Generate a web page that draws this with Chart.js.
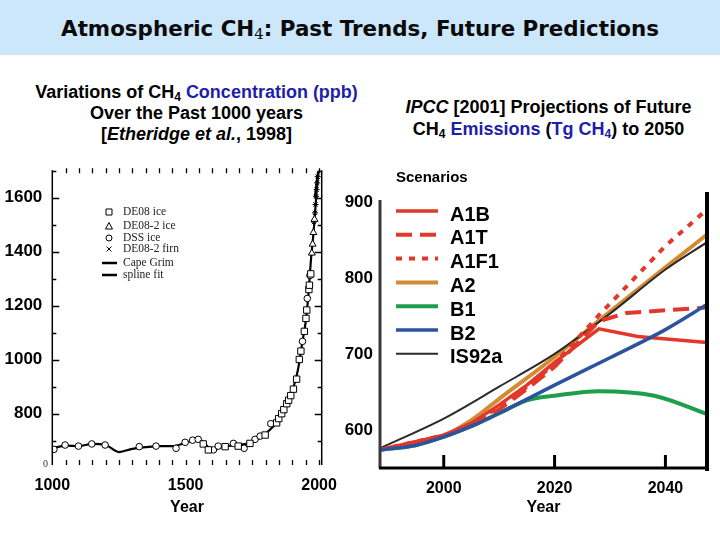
<!DOCTYPE html>
<html>
<head>
<meta charset="utf-8">
<script src="https://cdn.jsdelivr.net/npm/chart.js@4.4.1/dist/chart.umd.min.js"></script>
<style>
html,body{margin:0;padding:0;width:720px;height:540px;overflow:hidden;background:#fff;font-family:"Liberation Sans",Arial,sans-serif;}
#title{position:absolute;left:0;top:0;width:720px;height:55px;background:#cce6fa;text-align:center;
  font-family:"DejaVu Sans",sans-serif;font-weight:bold;font-size:21.4px;line-height:57px;color:#0a0a0a;}
#title sub{font-size:15px;font-weight:normal;vertical-align:-3px;line-height:0;font-family:"DejaVu Serif",serif;}
.sub{position:absolute;text-align:center;font-weight:bold;font-size:18px;color:#000;}
.sub sub{font-size:12px;vertical-align:-3px;line-height:0;}
.blue{color:#1e1ea8;}
#leftSub{left:16px;top:82px;width:361px;line-height:21px;}
#rightSub{left:378px;top:96px;width:341px;line-height:22px;}
canvas{position:absolute;}
#cPast{left:0;top:150px;}
#cFuture{left:330px;top:150px;}
#zeroLbl{position:absolute;left:43px;top:458px;font-size:10px;font-family:"Liberation Serif",serif;color:#333;}
</style>
</head>
<body>
<div id="title">Atmospheric CH<sub>4</sub>: Past Trends, Future Predictions</div>
<div class="sub" id="leftSub">Variations of CH<sub>4</sub> <span class="blue">Concentration (ppb)</span><br>Over the Past 1000 years<br>[<i>Etheridge et al.</i>, 1998]</div>
<div class="sub" id="rightSub"><i>IPCC</i> [2001] Projections of Future<br>CH<sub>4</sub> <span class="blue">Emissions</span> (<span class="blue">Tg CH<sub>4</sub></span>) to 2050</div>
<canvas id="cPast" width="360" height="380"></canvas>
<canvas id="cFuture" width="390" height="380"></canvas>
<div id="zeroLbl">0</div>
<script>
// ---------------- Left chart: past 1000 years ----------------
const pastYearLabels = [1000, 1500, 2000];
const pastValueLabels = [800, 1000, 1200, 1400, 1600];

const dssYears = [1006, 1048, 1098, 1148, 1198, 1326, 1389, 1464, 1498, 1526, 1547, 1604, 1622, 1679, 1719, 1760, 1779, 1819, 1938, 1956, 1966];
const dssValues = [668, 684, 680, 688, 684, 678, 680, 672, 694, 702, 705, 666, 680, 690, 672, 705, 717, 763, 1068, 1227, 1312];

const de08Years = [1566, 1585, 1648, 1697, 1741, 1798, 1841, 1849, 1860, 1868, 1879, 1886, 1894, 1904, 1916, 1926, 1932, 1945, 1951, 1954, 1962, 1964, 1969];
const de08Values = [688, 666, 678, 680, 690, 721, 766, 782, 800, 815, 837, 850, 867, 891, 928, 1001, 1032, 1105, 1153, 1184, 1260, 1276, 1318];

const de082IceYears = [1973, 1976, 1979, 1983];
const de082IceValues = [1395, 1428, 1471, 1520];

const de082FirnYears = [1981, 1985, 1987, 1989, 1991, 1993, 1995];
const de082FirnValues = [1510, 1544, 1575, 1605, 1630, 1655, 1678];

const capeGrimYears = [1984, 1990, 1996];
const capeGrimValues = [1600, 1650, 1695];

const splineYears = [1000, 1050, 1100, 1150, 1200, 1250, 1300, 1350, 1400, 1450, 1500, 1550, 1600, 1650, 1700, 1750, 1800, 1840, 1860, 1880, 1900, 1920, 1940, 1950, 1960, 1970, 1980, 1990, 1998];
const splineValues = [672, 682, 680, 688, 684, 658, 670, 676, 680, 680, 692, 704, 668, 680, 684, 695, 727, 766, 800, 840, 885, 958, 1080, 1141, 1239, 1373, 1478, 1611, 1700];

// ---------------- Right chart: projections ----------------
const futureYearLabels = [2000, 2020, 2040];
const futureValueLabels = [600, 700, 800, 900];
const scenarioNames = ['A1B', 'A1T', 'A1F1', 'A2', 'B1', 'B2', 'IS92a'];

const a1bYears = [1988.5, 2000, 2005, 2010, 2015, 2020, 2028, 2035, 2047.5];
const a1bValues = [575, 594, 610, 634, 660, 690, 734, 724, 716];
const a1tYears = [1988.5, 2000, 2005, 2010, 2015, 2020, 2028, 2033, 2047.5];
const a1tValues = [575, 593, 606, 628, 655, 684, 744, 755, 762];
const a1f1Years = [1988.5, 2000, 2005, 2010, 2015, 2020, 2028, 2040, 2047.5];
const a1f1Values = [575, 594, 608, 632, 658, 688, 752, 843, 891];
const a2Years = [1988.5, 2000, 2005, 2010, 2020, 2028, 2040, 2047.5];
const a2Values = [575, 594, 614, 642, 697, 745, 815, 858];
const b1Years = [1988.5, 1995, 2000, 2005, 2010, 2015, 2020, 2028, 2038, 2047.5];
const b1Values = [575, 581, 592, 606, 623, 640, 646, 652, 646, 622];
const b2Years = [1988.5, 1995, 2000, 2005, 2010, 2020, 2030, 2040, 2047.5];
const b2Values = [575, 581, 592, 606, 623, 660, 696, 733, 766];
const is92aYears = [1988.5, 2000, 2010, 2020, 2030, 2040, 2047.5];
const is92aValues = [577, 616, 658, 701, 754, 812, 848];

const zip = (xs, ys) => xs.map((x, i) => ({x: x, y: ys[i]}));
const FONT = '"Liberation Sans", Arial, sans-serif';

// ---- plugins ----
const pastFrame = {
  id: 'pastFrame',
  afterDatasetsDraw(chart) {
    const {ctx, chartArea: a, scales: {x, y}} = chart;
    ctx.save();
    ctx.strokeStyle = '#000';
    ctx.lineWidth = 1.5;
    ctx.beginPath();
    ctx.moveTo(a.left, a.top); ctx.lineTo(a.left, a.bottom);
    ctx.moveTo(a.right, a.top); ctx.lineTo(a.right, a.bottom);
    ctx.stroke();
    ctx.lineWidth = 1.3;
    ctx.beginPath();
    for (let v = Math.ceil(y.min / 100) * 100; v <= y.max; v += 100) {
      const py = Math.round(y.getPixelForValue(v)) + 0.5;
      const len = pastValueLabels.includes(v) ? 7 : 4;
      ctx.moveTo(a.left, py); ctx.lineTo(a.left + len, py);
      ctx.moveTo(a.right, py); ctx.lineTo(a.right - len, py);
    }
    for (let v = x.min + 50; v <= x.max; v += 50) {
      const px = Math.round(x.getPixelForValue(v)) + 0.5;
      ctx.moveTo(px, a.top - 2); ctx.lineTo(px, a.top + 3);
      ctx.moveTo(px, a.bottom); ctx.lineTo(px, a.bottom - 5);
    }
    ctx.stroke();
    // legend
    const lx = 109, tx = 123;
    const rows = [62, 76, 88, 99, 113, 125];
    ctx.font = '11.5px "Liberation Serif", serif';
    ctx.fillStyle = '#222';
    ctx.textBaseline = 'middle';
    ctx.textAlign = 'left';
    chart.data.datasets.forEach((ds, i) => {
      const ry = rows[i];
      ctx.strokeStyle = '#000';
      ctx.lineWidth = 1;
      ctx.beginPath();
      if (ds.pointStyle === 'rect') { ctx.rect(lx - 3, ry - 3, 6, 6); }
      else if (ds.pointStyle === 'triangle') { ctx.moveTo(lx, ry - 3.5); ctx.lineTo(lx + 3.5, ry + 3); ctx.lineTo(lx - 3.5, ry + 3); ctx.closePath(); }
      else if (ds.pointStyle === 'circle' && !ds.showLine) { ctx.arc(lx, ry, 3, 0, Math.PI * 2); }
      else if (ds.pointStyle === 'star') { ctx.moveTo(lx - 2.5, ry - 2.5); ctx.lineTo(lx + 2.5, ry + 2.5); ctx.moveTo(lx + 2.5, ry - 2.5); ctx.lineTo(lx - 2.5, ry + 2.5); }
      else { ctx.lineWidth = 2.5; ctx.moveTo(lx - 7, ry); ctx.lineTo(lx + 8, ry); }
      ctx.stroke();
      ctx.fillText(ds.label, tx, ry);
    });
    ctx.restore();
  }
};

const futureFrame = {
  id: 'futureFrame',
  afterDatasetsDraw(chart) {
    const {ctx, chartArea: a, scales: {x}} = chart;
    ctx.save();
    ctx.strokeStyle = '#3a3a3a';
    ctx.lineWidth = 3;
    ctx.beginPath();
    ctx.moveTo(a.left, a.top + 8); ctx.lineTo(a.left, a.bottom);
    ctx.stroke();
    ctx.strokeStyle = '#000';
    ctx.lineWidth = 3;
    ctx.beginPath();
    ctx.moveTo(a.left - 1, a.bottom); ctx.lineTo(a.right + 2, a.bottom);
    futureYearLabels.forEach(v => {
      const px = x.getPixelForValue(v);
      ctx.moveTo(px, a.bottom); ctx.lineTo(px, a.bottom - 13);
    });
    ctx.stroke();
    ctx.lineWidth = 4;
    ctx.beginPath();
    ctx.moveTo(a.right, a.top); ctx.lineTo(a.right, a.bottom + 3);
    ctx.stroke();
    // legend
    ctx.fillStyle = '#000';
    ctx.textAlign = 'left';
    ctx.textBaseline = 'middle';
    ctx.font = 'bold 15px ' + FONT;
    ctx.fillText('Scenarios', a.left + 16, a.top - 14);
    ctx.font = 'bold 20px ' + FONT;
    const sx0 = a.left + 16, sx1 = a.left + 58, tx = a.left + 70;
    chart.data.datasets.forEach((ds, i) => {
      const ry = a.top + 23 + i * 23.8;
      ctx.save();
      ctx.strokeStyle = ds.borderColor;
      ctx.lineWidth = ds.borderWidth;
      ctx.setLineDash(ds.borderDash || []);
      ctx.beginPath();
      ctx.moveTo(sx0, ry - 4); ctx.lineTo(sx1, ry - 4);
      ctx.stroke();
      ctx.restore();
      ctx.fillText(ds.label, tx, ry);
    });
    ctx.restore();
  }
};

// ---- left chart ----
new Chart(document.getElementById('cPast'), {
  type: 'scatter',
  data: {
    datasets: [
      {label: 'DE08 ice', data: zip(de08Years, de08Values), pointStyle: 'rect', pointRadius: 4.5, backgroundColor: '#fff', borderColor: '#000', borderWidth: 1},
      {label: 'DE08-2 ice', data: zip(de082IceYears, de082IceValues), pointStyle: 'triangle', pointRadius: 4, backgroundColor: '#fff', borderColor: '#000', borderWidth: 1},
      {label: 'DSS ice', data: zip(dssYears, dssValues), pointStyle: 'circle', pointRadius: 3.3, backgroundColor: '#fff', borderColor: '#000', borderWidth: 1},
      {label: 'DE08-2 firn', data: zip(de082FirnYears, de082FirnValues), pointStyle: 'star', pointRadius: 3, backgroundColor: '#fff', borderColor: '#000', borderWidth: 1},
      {label: 'Cape Grim', data: zip(capeGrimYears, capeGrimValues), showLine: true, pointRadius: 0, borderColor: '#000', borderWidth: 2, pointStyle: 'line'},
      {label: 'spline fit', data: zip(splineYears, splineValues), showLine: true, pointRadius: 0, borderColor: '#000', borderWidth: 2.2, tension: 0.35, cubicInterpolationMode: 'monotone', pointStyle: 'line', order: 1}
    ]
  },
  options: {
    responsive: false,
    animation: false,
    layout: {padding: {left: 0, top: 17, right: 38.3, bottom: 0}},
    plugins: {legend: {display: false}, tooltip: {enabled: false}},
    scales: {
      x: {
        type: 'linear', min: 1000, max: 2010,
        grid: {display: false, drawTicks: false}, border: {display: false},
        afterFit: s => { s.height = 65; },
        afterBuildTicks: s => { s.ticks = pastYearLabels.map(v => ({value: v})); },
        ticks: {autoSkip: false, maxRotation: 0, padding: 11, color: '#000',
          font: {family: FONT, size: 16, weight: 'bold'}, callback: v => String(v)},
        title: {display: true, text: 'Year', color: '#000', font: {family: FONT, size: 16, weight: 'bold'}, padding: {top: 0, bottom: 13}}
      },
      y: {
        type: 'linear', min: 610, max: 1702,
        grid: {display: false, drawTicks: false}, border: {display: false},
        afterFit: s => { s.width = 52.3; },
        afterBuildTicks: s => { s.ticks = pastValueLabels.map(v => ({value: v})); },
        ticks: {autoSkip: false, padding: 10, color: '#000',
          font: {family: FONT, size: 17, weight: 'bold'}, callback: v => String(v)}
      }
    }
  },
  plugins: [pastFrame]
});

// ---- right chart ----
const red = '#e2382b';
const futureSeries = [
  {years: a1bYears, values: a1bValues, color: red, width: 3.5, dash: [], order: 2, tension: 0},
  {years: a1tYears, values: a1tValues, color: red, width: 4, dash: [16, 8], order: 3, tension: 0},
  {years: a1f1Years, values: a1f1Values, color: red, width: 4, dash: [6, 7], order: 1, tension: 0},
  {years: a2Years, values: a2Values, color: '#d48a30', width: 4, dash: [], order: 5, tension: 0.2},
  {years: b1Years, values: b1Values, color: '#1d9e4c', width: 4, dash: [], order: 6, tension: 0.3},
  {years: b2Years, values: b2Values, color: '#2b539e', width: 3.5, dash: [], order: 0, tension: 0.3},
  {years: is92aYears, values: is92aValues, color: '#2a2a2a', width: 2, dash: [], order: 4, tension: 0.2}
];
new Chart(document.getElementById('cFuture'), {
  type: 'line',
  data: {
    datasets: futureSeries.map((s, i) => ({
      label: scenarioNames[i], data: zip(s.years, s.values),
      borderColor: s.color, borderWidth: s.width, borderDash: s.dash, order: s.order,
      pointRadius: 0, fill: false, tension: s.tension, cubicInterpolationMode: s.tension ? 'monotone' : 'default'
    }))
  },
  options: {
    responsive: false,
    animation: false,
    layout: {padding: {left: 0, top: 42, right: 13, bottom: 0}},
    plugins: {legend: {display: false}, tooltip: {enabled: false}},
    scales: {
      x: {
        type: 'linear', min: 1988.5, max: 2047.5,
        grid: {display: false, drawTicks: false}, border: {display: false},
        afterFit: s => { s.height = 62; },
        afterBuildTicks: s => { s.ticks = futureYearLabels.map(v => ({value: v})); },
        ticks: {maxRotation: 0, autoSkip: false, padding: 11, color: '#000',
          font: {family: FONT, size: 16, weight: 'bold'}, callback: v => String(v)},
        title: {display: true, text: 'Year', color: '#000', font: {family: FONT, size: 16, weight: 'bold'}, padding: {top: 0, bottom: 13}}
      },
      y: {
        type: 'linear', min: 551, max: 914,
        grid: {display: false, drawTicks: false}, border: {display: false},
        afterFit: s => { s.width = 50; },
        afterBuildTicks: s => { s.ticks = futureValueLabels.map(v => ({value: v})); },
        ticks: {padding: 7, color: '#000', font: {family: FONT, size: 17, weight: 'bold'}, callback: v => String(v)}
      }
    }
  },
  plugins: [futureFrame]
});
</script>
</body>
</html>
